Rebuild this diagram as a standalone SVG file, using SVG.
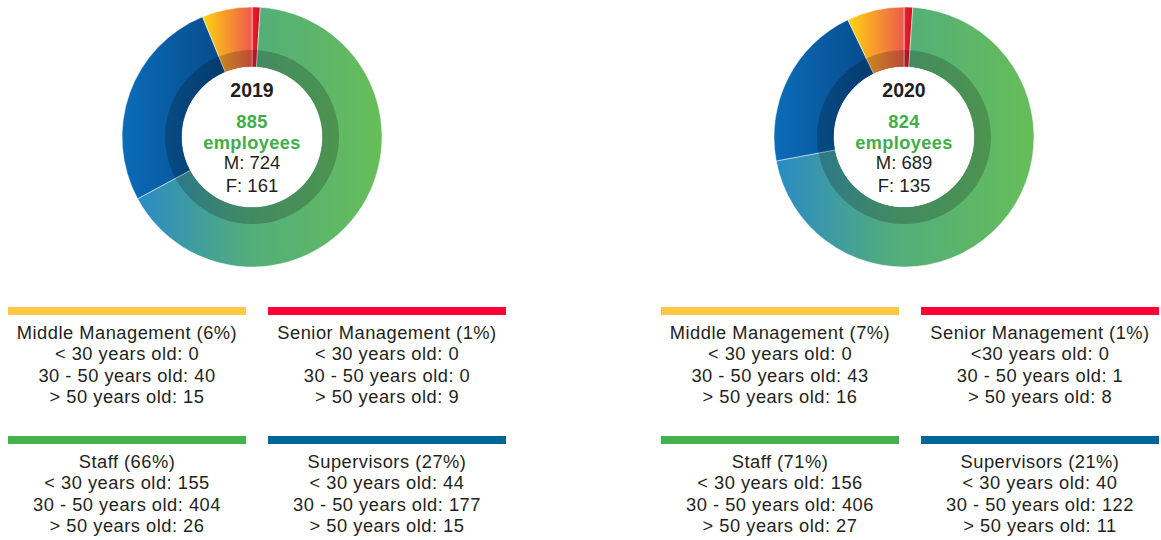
<svg xmlns="http://www.w3.org/2000/svg" width="1161" height="540" viewBox="0 0 1161 540">
<style>
text{font-family:"Liberation Sans",Arial,sans-serif;fill:#231f20;text-anchor:middle}
.lbl{font-size:18.3px;letter-spacing:0.5px}
.yr{font-size:19.5px;font-weight:bold}
.tot{font-size:18.2px;font-weight:bold;fill:#3fae49;letter-spacing:0.4px}
.mf{font-size:18.5px}
.seg{stroke:#fff;stroke-width:0.5}
.shade{fill:none;stroke:#000;stroke-opacity:0.2;stroke-width:17}
</style>
<defs>
<linearGradient id="gG" x1="0" y1="0" x2="1" y2="0"><stop offset="0" stop-color="#2a8bc6"/><stop offset="0.45" stop-color="#52ad7c"/><stop offset="1" stop-color="#66be58"/></linearGradient>
<linearGradient id="gB" x1="0" y1="0" x2="1" y2="0"><stop offset="0" stop-color="#0b6cb8"/><stop offset="1" stop-color="#064a8a"/></linearGradient>
<linearGradient id="gY" x1="0" y1="0" x2="1" y2="0"><stop offset="0" stop-color="#fed510"/><stop offset="1" stop-color="#ee5a4c"/></linearGradient>
<linearGradient id="gR" x1="0" y1="0" x2="1" y2="0"><stop offset="0" stop-color="#ec2030"/><stop offset="1" stop-color="#cc1020"/></linearGradient>
</defs>

<g id="chart2019">
<path class="seg" fill="url(#gR)" d="M252,7 A130,130 0 0 1 260.30,7.27 L256.47,67.14 A70,70 0 0 0 252,67 Z"/>
<path class="seg" fill="url(#gG)" d="M260.30,7.27 A130,130 0 1 1 137.61,198.77 L190.41,170.26 A70,70 0 1 0 256.47,67.14 Z"/>
<path class="seg" fill="url(#gB)" d="M137.61,198.77 A130,130 0 0 1 202.52,16.78 L225.36,72.27 A70,70 0 0 0 190.41,170.26 Z"/>
<path class="seg" fill="url(#gY)" d="M202.52,16.78 A130,130 0 0 1 252,7 L252,67 A70,70 0 0 0 225.36,72.27 Z"/>
<circle class="shade" cx="252" cy="137" r="78.5"/>
<circle cx="252" cy="137" r="70" fill="#fff"/>
<text class="yr" x="252" y="96.5">2019</text>
<text class="tot" x="252" y="127.5">885</text>
<text class="tot" x="252" y="148.5">employees</text>
<text class="mf" x="252" y="169.3">M: 724</text>
<text class="mf" x="252" y="191.5">F: 161</text>
</g>

<g id="chart2020">
<path class="seg" fill="url(#gR)" d="M904,7 A130,130 0 0 1 912.84,7.30 L908.76,67.16 A70,70 0 0 0 904,67 Z"/>
<path class="seg" fill="url(#gG)" d="M912.84,7.30 A130,130 0 1 1 776.23,160.98 L835.20,149.91 A70,70 0 1 0 908.76,67.16 Z"/>
<path class="seg" fill="url(#gB)" d="M776.23,160.98 A130,130 0 0 1 847.85,19.75 L873.76,73.87 A70,70 0 0 0 835.20,149.91 Z"/>
<path class="seg" fill="url(#gY)" d="M847.85,19.75 A130,130 0 0 1 904,7 L904,67 A70,70 0 0 0 873.76,73.87 Z"/>
<circle class="shade" cx="904" cy="137" r="78.5"/>
<circle cx="904" cy="137" r="70" fill="#fff"/>
<text class="yr" x="904" y="96.5">2020</text>
<text class="tot" x="904" y="127.5">824</text>
<text class="tot" x="904" y="148.5">employees</text>
<text class="mf" x="904" y="169.3">M: 689</text>
<text class="mf" x="904" y="191.5">F: 135</text>
</g>

<g id="mm2019">
<rect x="8" y="307" width="238" height="8" fill="#fec844"/>
<text class="lbl" x="127" y="338.5">Middle Management (6%)</text>
<text class="lbl" x="127" y="360">&lt; 30 years old: 0</text>
<text class="lbl" x="127" y="381.5">30 - 50 years old: 40</text>
<text class="lbl" x="127" y="402.5">&gt; 50 years old: 15</text>
</g>
<g id="sm2019">
<rect x="268" y="307" width="238" height="8" fill="#ff0033"/>
<text class="lbl" x="387" y="338.5">Senior Management (1%)</text>
<text class="lbl" x="387" y="360">&lt; 30 years old: 0</text>
<text class="lbl" x="387" y="381.5">30 - 50 years old: 0</text>
<text class="lbl" x="387" y="402.5">&gt; 50 years old: 9</text>
</g>
<g id="staff2019">
<rect x="8" y="436" width="238" height="8" fill="#45b14f"/>
<text class="lbl" x="127" y="468">Staff (66%)</text>
<text class="lbl" x="127" y="489.3">&lt; 30 years old: 155</text>
<text class="lbl" x="127" y="510.6">30 - 50 years old: 404</text>
<text class="lbl" x="127" y="532">&gt; 50 years old: 26</text>
</g>
<g id="sup2019">
<rect x="268" y="436" width="238" height="8" fill="#006699"/>
<text class="lbl" x="387" y="468">Supervisors (27%)</text>
<text class="lbl" x="387" y="489.3">&lt; 30 years old: 44</text>
<text class="lbl" x="387" y="510.6">30 - 50 years old: 177</text>
<text class="lbl" x="387" y="532">&gt; 50 years old: 15</text>
</g>

<g id="mm2020">
<rect x="661" y="307" width="238" height="8" fill="#fec844"/>
<text class="lbl" x="780" y="338.5">Middle Management (7%)</text>
<text class="lbl" x="780" y="360">&lt; 30 years old: 0</text>
<text class="lbl" x="780" y="381.5">30 - 50 years old: 43</text>
<text class="lbl" x="780" y="402.5">&gt; 50 years old: 16</text>
</g>
<g id="sm2020">
<rect x="921" y="307" width="238" height="8" fill="#ff0033"/>
<text class="lbl" x="1040" y="338.5">Senior Management (1%)</text>
<text class="lbl" x="1040" y="360">&lt;30 years old: 0</text>
<text class="lbl" x="1040" y="381.5">30 - 50 years old: 1</text>
<text class="lbl" x="1040" y="402.5">&gt; 50 years old: 8</text>
</g>
<g id="staff2020">
<rect x="661" y="436" width="238" height="8" fill="#45b14f"/>
<text class="lbl" x="780" y="468">Staff (71%)</text>
<text class="lbl" x="780" y="489.3">&lt; 30 years old: 156</text>
<text class="lbl" x="780" y="510.6">30 - 50 years old: 406</text>
<text class="lbl" x="780" y="532">&gt; 50 years old: 27</text>
</g>
<g id="sup2020">
<rect x="921" y="436" width="238" height="8" fill="#006699"/>
<text class="lbl" x="1040" y="468">Supervisors (21%)</text>
<text class="lbl" x="1040" y="489.3">&lt; 30 years old: 40</text>
<text class="lbl" x="1040" y="510.6">30 - 50 years old: 122</text>
<text class="lbl" x="1040" y="532">&gt; 50 years old: 11</text>
</g>
<g id="connectors"/>
</svg>
